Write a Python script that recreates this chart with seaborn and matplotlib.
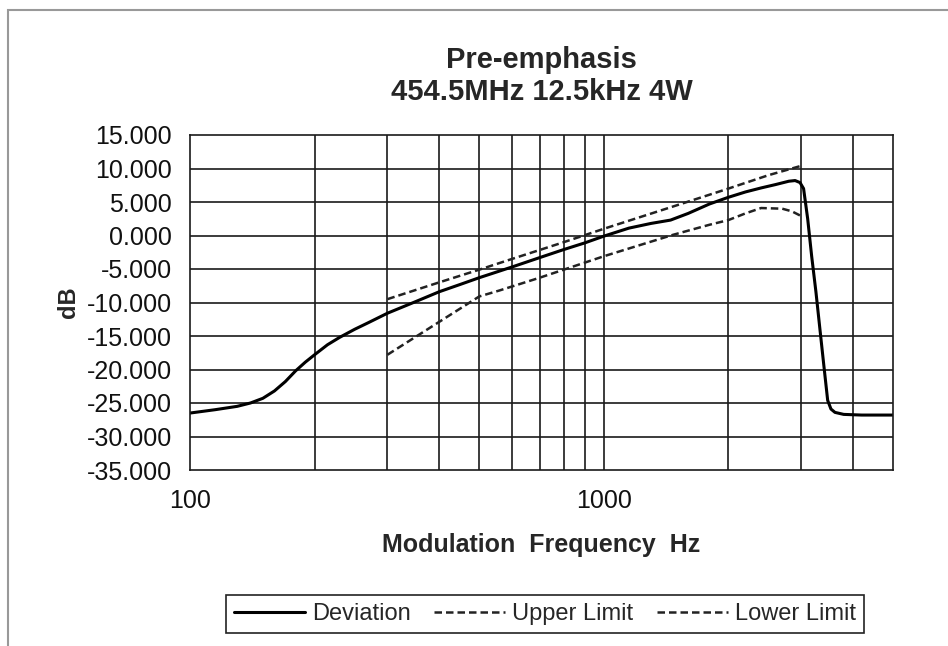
import matplotlib
matplotlib.use("Agg")
import matplotlib.pyplot as plt
import matplotlib.ticker as mticker
from matplotlib.patches import Rectangle
import pandas as pd
import seaborn as sns

# Deviation curve (Hz, dB)
dev_freq = [100, 115, 130, 140, 150, 160, 170, 180, 190, 200, 215, 230, 250, 270,
            300, 350, 400, 450, 500, 600, 700, 800, 900, 1000, 1150, 1300, 1450,
            1600, 1800, 2000, 2200, 2400, 2600, 2800, 2900, 2980, 3040, 3110, 3180,
            3256, 3327, 3400, 3476, 3540, 3620, 3800, 4200, 5000]
dev_db = [-26.5, -26.0, -25.5, -25.0, -24.3, -23.2, -21.8, -20.2, -18.9, -17.8, -16.3,
          -15.2, -14.0, -13.0, -11.6, -9.9, -8.4, -7.3, -6.3, -4.7, -3.3, -2.1, -1.1,
          -0.1, 1.1, 1.8, 2.3, 3.3, 4.7, 5.7, 6.5, 7.1, 7.6, 8.1, 8.2, 7.9, 7.0, 2.5,
          -3.1, -8.4, -13.8, -19.2, -24.6, -25.9, -26.4, -26.7, -26.8, -26.8]

# Upper limit
up_freq = [300, 400, 500, 600, 800, 1000, 1500, 2000, 2500, 3000]
up_db = [-9.5, -7.0, -5.1, -3.5, -1.0, 1.0, 4.5, 7.0, 9.0, 10.4]

# Lower limit
low_freq = [300, 400, 500, 560, 700, 1000, 1470, 1800, 2000, 2200, 2400, 2700, 2850, 3000]
low_db = [-17.8, -12.9, -9.1, -8.2, -6.3, -3.1, 0.1, 1.6, 2.3, 3.3, 4.1, 4.0, 3.6, 2.9]

grid_freq = [200, 300, 400, 500, 600, 700, 800, 900, 2000, 3000, 4000]

sns.set_theme(style="white")
plt.rcParams['font.family'] = ['Liberation Sans', 'DejaVu Sans']

fig = plt.figure(figsize=(9.48, 6.46), dpi=100)
ax = fig.add_axes([190 / 948, 176 / 646, 703 / 948, 335 / 646])

dev = pd.DataFrame({'freq': dev_freq, 'db': dev_db})
up = pd.DataFrame({'freq': up_freq, 'db': up_db})
low = pd.DataFrame({'freq': low_freq, 'db': low_db})

sns.lineplot(data=dev, x='freq', y='db', ax=ax, color='black', lw=2.2, label='Deviation')
sns.lineplot(data=up, x='freq', y='db', ax=ax, color='#222222', lw=1.8, label='Upper Limit')
sns.lineplot(data=low, x='freq', y='db', ax=ax, color='#222222', lw=1.8, label='Lower Limit')
for line in ax.lines[1:]:
    line.set_linestyle((0, (3, 1.6)))

ax.set_xscale('log')
ax.set_xlim(100, 5000)
ax.set_ylim(-35, 15)
ax.set_yticks(range(-35, 16, 5))
ax.yaxis.set_major_formatter(mticker.FuncFormatter(lambda v, p: f"{v:.3f}"))
ax.set_xticks([100, 1000])
ax.set_xticklabels(['100', '1000'])
ax.xaxis.set_minor_locator(mticker.NullLocator())

# grid
for y in range(-30, 15, 5):
    ax.axhline(y, color='#1a1a1a', lw=1.2, zorder=0)
for f in [1000] + grid_freq:
    ax.axvline(f, color='#1a1a1a', lw=1.2, zorder=0)
for s in ax.spines.values():
    s.set_color('#1a1a1a')
    s.set_linewidth(1.2)

ax.tick_params(axis='both', which='major', direction='out', length=7, width=1.2,
               color='#1a1a1a', labelsize=18, labelcolor='#111111', pad=6)
ax.tick_params(axis='x', pad=7)

ax.set_xlabel('Modulation  Frequency  Hz', fontsize=18, fontweight='bold', labelpad=14)
ax.set_ylabel('dB', fontsize=17, fontweight='bold', labelpad=5)
ax.set_title('Pre-emphasis\n454.5MHz 12.5kHz 4W', fontsize=21, fontweight='bold',
             pad=25, linespacing=1.2)

ax.get_legend().remove()
handles, labels = ax.get_legend_handles_labels()
leg = fig.legend(handles, labels, loc='center', bbox_to_anchor=(545 / 948, 32 / 646),
                 ncol=3, fontsize=17, handlelength=3.0, handletextpad=0.3,
                 columnspacing=1.0, fancybox=False, edgecolor='#222222',
                 borderpad=0.35, framealpha=1)
leg.get_frame().set_linewidth(1.2)

# outer chart frame
fig.patches.append(Rectangle((7.5 / 948, -0.1), 1.2, (646 - 10.5) / 646 + 0.1,
                             transform=fig.transFigure, fill=False,
                             edgecolor='#999999', lw=1.5, clip_on=False))

fig.savefig('out.png', dpi=100)
